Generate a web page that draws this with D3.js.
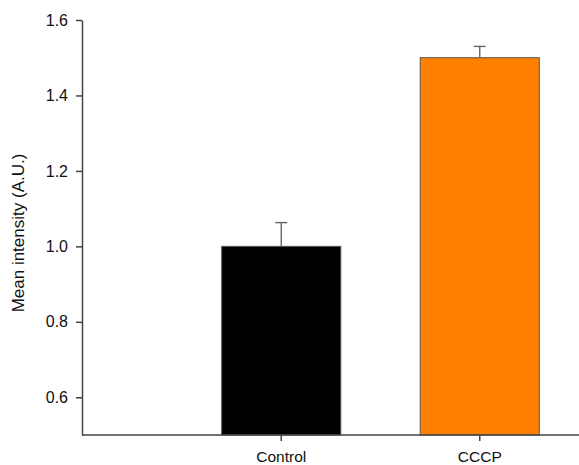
<!DOCTYPE html>
<html>
<head>
<meta charset="utf-8">
<script src="https://cdn.jsdelivr.net/npm/d3@7"></script>
<style>
  body { margin: 0; background: #fff; }
  svg { display: block; font-family: "Liberation Sans", Arial, sans-serif; }
</style>
</head>
<body>
<div id="chart"></div>
<script>
const categories = ['Control', 'CCCP']
const means = [1.0, 1.5]
const errors = [0.063, 0.03]
const yTicks = [0.6, 0.8, 1.0, 1.2, 1.4, 1.6]
const barColours = ['#000000', '#ff8000']

const WIDTH = 579
const HEIGHT = 465

const svg = d3.select('#chart')
    .append('svg')
    .attr('width', WIDTH)
    .attr('height', HEIGHT)

const data = categories.map((c, i) => ({ name: c, mean: means[i], err: errors[i], colour: barColours[i] }))

const xScale = d3.scaleBand()
    .domain(categories)
    .range([182, 579])
    .paddingInner(0.4)
    .paddingOuter(0.2)

const yScale = d3.scaleLinear()
    .domain([0.5, 1.6])
    .range([435, 20])

// bars
svg.selectAll('.bar')
    .data(data)
    .join('rect')
    .attr('class', 'bar')
    .attr('x', d => xScale(d.name))
    .attr('y', d => yScale(d.mean))
    .attr('width', xScale.bandwidth())
    .attr('height', d => yScale(0.5) - yScale(d.mean))
    .attr('fill', d => d.colour)
    .attr('stroke', '#555')
    .attr('stroke-width', 1)

// error bars (upper only)
const errG = svg.selectAll('.err')
    .data(data)
    .join('g')
    .attr('class', 'err')
    .attr('stroke', '#666')
    .attr('stroke-width', 1.4)

errG.append('line')
    .attr('x1', d => xScale(d.name) + xScale.bandwidth() / 2)
    .attr('x2', d => xScale(d.name) + xScale.bandwidth() / 2)
    .attr('y1', d => yScale(d.mean))
    .attr('y2', d => yScale(d.mean + d.err))

errG.append('line')
    .attr('x1', d => xScale(d.name) + xScale.bandwidth() / 2 - 6)
    .attr('x2', d => xScale(d.name) + xScale.bandwidth() / 2 + 6)
    .attr('y1', d => yScale(d.mean + d.err))
    .attr('y2', d => yScale(d.mean + d.err))

// y axis
const yAxis = svg.append('g')
    .attr('transform', 'translate(82, 0)')
    .call(d3.axisLeft(yScale).tickValues(yTicks).tickFormat(d3.format('.1f')).tickSize(6).tickSizeOuter(0).tickPadding(8))
yAxis.select('.domain').attr('stroke', '#444').attr('stroke-width', 1.5)
yAxis.selectAll('.tick line').attr('stroke', '#444').attr('stroke-width', 1.5)
yAxis.selectAll('.tick text').attr('font-size', 16).attr('fill', '#111').attr('font-family', '"Liberation Sans", Arial, sans-serif')

// x axis
const xAxis = svg.append('g')
    .attr('transform', `translate(0, ${yScale(0.5)})`)
    .call(d3.axisBottom(xScale).tickSize(6).tickSizeOuter(0).tickPadding(10))
xAxis.select('.domain').attr('d', `M82,0H${WIDTH}`).attr('stroke', '#444').attr('stroke-width', 1.5)
xAxis.selectAll('.tick line').attr('stroke', '#444').attr('stroke-width', 1.5)
xAxis.selectAll('.tick text').attr('font-size', 15.5).attr('fill', '#111').attr('font-family', '"Liberation Sans", Arial, sans-serif')

// y title
svg.append('text')
    .attr('transform', 'translate(24, 233) rotate(-90)')
    .attr('text-anchor', 'middle')
    .attr('font-size', 17)
    .attr('fill', '#111')
    .text('Mean intensity (A.U.)')
</script>
</body>
</html>
